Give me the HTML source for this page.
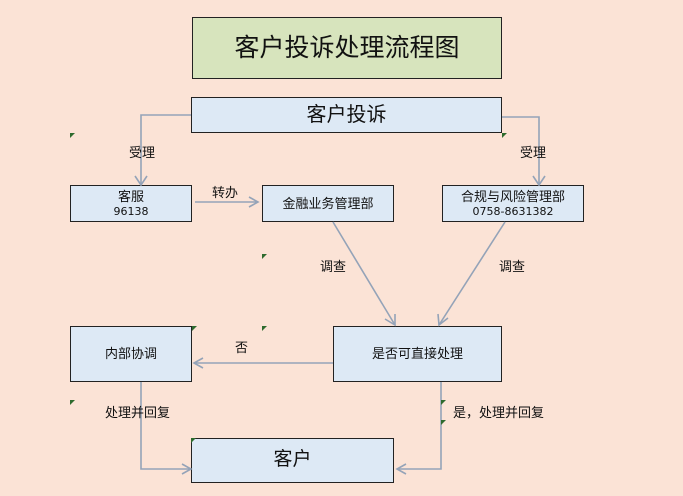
<!DOCTYPE html>
<html><head><meta charset="utf-8"><style>
html,body{margin:0;padding:0}
body{width:683px;height:496px;background:#fbe3d6;position:relative;overflow:hidden;font-family:"Liberation Sans","Noto Sans CJK SC",sans-serif;color:#111}
.b{position:absolute;box-sizing:border-box;border:1.3px solid #222;background:#dde9f5;display:flex;flex-direction:column;align-items:center;justify-content:center;text-align:center;line-height:1.2}
.t{position:absolute;font-size:13px;white-space:nowrap}
svg{position:absolute;left:0;top:0}
</style></head><body>
<div class="b" style="left:192px;top:17px;width:310px;height:62px;background:#d7e4bd;font-size:25px;">客户投诉处理流程图</div>
<div class="b" style="left:191px;top:97px;width:311px;height:36px;font-size:20px;">客户投诉</div>
<div class="b" style="left:70px;top:185px;width:122px;height:37px;font-size:13px;">客服<span style="font-family:'DejaVu Sans',sans-serif;font-size:11px">96138</span></div>
<div class="b" style="left:262px;top:185px;width:132px;height:37px;font-size:13px;">金融业务管理部</div>
<div class="b" style="left:442px;top:185px;width:142px;height:37px;font-size:13px;">合规与风险管理部<span style="font-family:'DejaVu Sans',sans-serif;font-size:11px">0758-8631382</span></div>
<div class="b" style="left:70px;top:326px;width:122px;height:56px;font-size:13px;">内部协调</div>
<div class="b" style="left:333px;top:326px;width:169px;height:56px;font-size:13px;">是否可直接处理</div>
<div class="b" style="left:191px;top:438px;width:203px;height:45px;font-size:19px;">客户</div>
<svg width="683" height="496" fill="none" stroke="#94a3b8" stroke-width="1.6">
<path d="M191 115H141V185"/><path d="M135 176L141 185L147 176"/>
<path d="M502 117H539V185"/><path d="M533 176L539 185L545 176"/>
<path d="M195 202H258"/><path d="M249 197L258 202L249 207"/>
<path d="M333 222L395 325"/><path d="M385 319L395 325L395 314"/>
<path d="M505 222L439 325"/><path d="M438 314L439 325L448 318"/>
<path d="M333 363H194"/><path d="M203 358L194 363L203 368"/>
<path d="M141 382V469H191"/><path d="M182 464L191 469L182 474"/>
<path d="M441 382V469H397"/><path d="M406 464L397 469L406 474"/>
<g fill="#2e6b2e" stroke="none">
<path d="M70 133h5l-5 5z"/><path d="M502 133h5l-5 5z"/><path d="M192 326h5l-5 5z"/><path d="M262 326h5l-5 5z"/><path d="M262 254h5l-5 5z"/><path d="M70 400h5l-5 5z"/><path d="M441 400h5l-5 5z"/><path d="M441 420h5l-5 5z"/><path d="M191 438h5l-5 5z"/>
</g>
</svg>
<div class="t" style="left:129px;top:142px;">受理</div>
<div class="t" style="left:520px;top:142px;">受理</div>
<div class="t" style="left:212px;top:182px;">转办</div>
<div class="t" style="left:320px;top:256px;">调查</div>
<div class="t" style="left:499px;top:256px;">调查</div>
<div class="t" style="left:235px;top:337px;">否</div>
<div class="t" style="left:105px;top:402px;">处理并回复</div>
<div class="t" style="left:453px;top:402px;">是，处理并回复</div>
</body></html>
